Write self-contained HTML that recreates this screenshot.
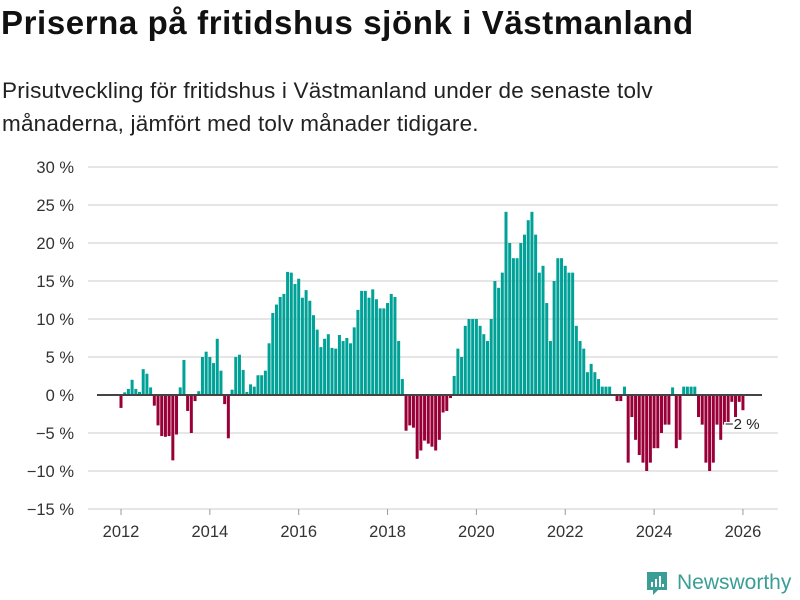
<!DOCTYPE html>
<html><head><meta charset="utf-8"><style>
body{margin:0;background:#fff;width:800px;height:600px;overflow:hidden;font-family:"Liberation Sans","DejaVu Sans",sans-serif;}
#title{position:absolute;left:1px;top:4px;font-size:33px;letter-spacing:0.6px;font-weight:bold;color:#111;margin:0;}
#sub{position:absolute;left:2px;top:74px;font-size:22.5px;letter-spacing:0.2px;line-height:33px;color:#222;width:790px;}
#logo{position:absolute;left:645px;top:570px;display:flex;align-items:center;}
</style></head><body>
<h1 id="title">Priserna på fritidshus sjönk i Västmanland</h1>
<div id="sub">Prisutveckling för fritidshus i Västmanland under de senaste tolv<br>månaderna, jämfört med tolv månader tidigare.</div>
<svg id="chart" width="800" height="600" style="position:absolute;left:0;top:0"></svg>
<div id="logo">
<svg width="24" height="26"><path d="M2 2h20v18h-9l-5 5v-5H2z" fill="#3a9e96"/><rect x="6" y="12" width="2" height="5" fill="#fff"/><rect x="10" y="9" width="2" height="8" fill="#fff"/><rect x="14" y="6" width="2" height="11" fill="#fff"/><rect x="17" y="14" width="2" height="3" fill="#fff"/></svg>
<span style="color:#3a9e96;font-size:21px;margin-left:8px;">Newsworthy</span></div>
<script>
const startYear = 2012;
const values = [
-1.7,0.35,0.8,2.0,0.8,0.4,3.4,2.8,1.0,-1.4,-4.0,-5.4,
-5.5,-5.4,-8.6,-5.2,1.0,4.6,-2.1,-5.0,-0.8,0.5,5.0,5.7,
5.0,4.2,7.4,3.2,-1.2,-5.7,0.7,5.0,5.3,3.3,0.4,1.4,
1.1,2.6,2.6,3.2,6.8,10.8,11.9,12.9,13.3,16.2,16.1,14.6,
15.3,12.8,13.8,12.4,10.5,8.6,6.3,7.4,8.0,6.2,6.1,7.9,
7.1,7.5,6.8,8.9,11.2,13.7,13.7,12.8,13.9,12.6,11.4,11.4,
12.1,13.3,12.9,7.1,2.1,-4.7,-4.0,-4.3,-8.4,-7.3,-6.0,-6.4,
-6.8,-7.3,-5.9,-2.3,-2.1,-0.4,2.5,6.1,5.0,9.1,10.0,10.0,
10.0,9.1,8.0,7.1,10.0,15.0,14.1,16.1,24.1,20.0,18.0,18.0,
20.0,21.1,23.0,24.1,21.1,16.1,17.0,12.1,7.1,15.0,18.0,18.0,
17.0,16.1,16.1,9.1,7.1,6.1,3.0,4.1,3.0,2.1,1.1,1.1,
1.1,0,-0.8,-0.8,1.1,-8.9,-2.9,-5.9,-7.9,-8.9,-10.0,-8.9,
-7.0,-7.0,-5.0,-3.9,-3.9,1.0,-7.0,-5.9,1.1,1.1,1.1,1.1,
-2.9,-3.9,-8.9,-10.0,-8.9,-3.9,-5.9,-3.9,-3.9,-0.9,-2.9,-0.9,
-2.0];
const yTicks = [30,25,20,15,10,5,0,-5,-10,-15];
const xTicks = [2012,2014,2016,2018,2020,2022,2024,2026];
const lastLabel = "\u22122 %";

const NS="http://www.w3.org/2000/svg";
const svg=document.getElementById('chart');
const y=v=>395-v*7.6;
const x=m=>121+m*3.702;
const xYear=yr=>x((yr-startYear)*12);
function mk(t,a){const e=document.createElementNS(NS,t);for(const k in a)e.setAttribute(k,a[k]);svg.appendChild(e);return e;}
yTicks.forEach(v=>{
  if(v!==0){const g=mk('line',{x1:88,x2:778,y1:y(v),y2:y(v),stroke:'#ddd','stroke-width':1.5});
  
  }
  const t=mk('text',{x:74,y:y(v)+6,'text-anchor':'end','font-size':16.5,fill:'#333','font-family':'Liberation Sans, sans-serif'});
  t.textContent=(v<0?'\u2212'+(-v):v)+' %';
  
  
});
values.forEach((v,i)=>{
  const r=mk('rect',{x:x(i)-1.5,y:Math.min(y(v),395),width:3,height:Math.abs(y(v)-395),fill:v>=0?'#00a197':'#9a0038'});
  
  
});
const z=mk('line',{x1:97,x2:762,y1:395,y2:395,stroke:'#444','stroke-width':2});


xTicks.forEach(yr=>{
  const tk=mk('line',{x1:xYear(yr),x2:xYear(yr),y1:509,y2:515,stroke:'#999','stroke-width':1});
  
  
  const t=mk('text',{x:xYear(yr),y:537,'text-anchor':'middle','font-size':16.5,fill:'#333','font-family':'Liberation Sans, sans-serif'});
  t.textContent=yr;
  
  
});
const li=values.length-1;
const a=mk('text',{x:x(li)-18,y:y(values[li])+19,'font-size':15,fill:'#222','font-family':'Liberation Sans, sans-serif',stroke:'#fff','stroke-width':3,'paint-order':'stroke'});
a.textContent=lastLabel;


</script>
</body></html>
